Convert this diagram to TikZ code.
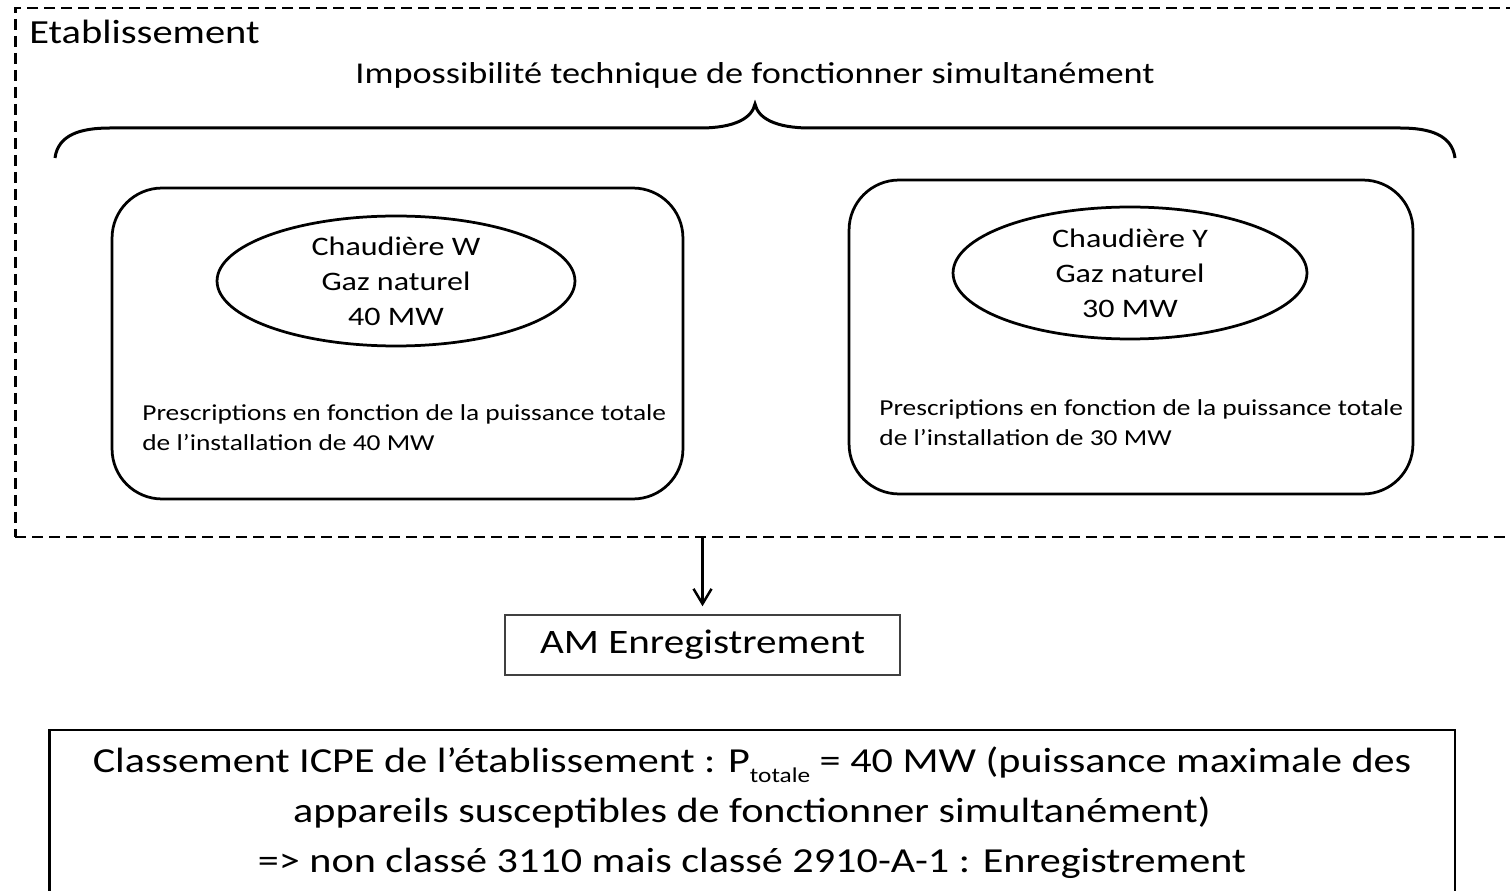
\documentclass[tikz,border=0pt]{standalone}
\usepackage{fontspec}
\setmainfont[FakeStretch=1.2]{Carlito}
\usetikzlibrary{positioning,arrows.meta,shapes.geometric}

\begin{document}
\begin{tikzpicture}[x=0.02cm,y=-0.02cm,
		etabbox/.style={draw, dash pattern=on 0.22cm off 0.12cm, line width=0.055cm, minimum width=30.3cm, minimum height=10.58cm, inner sep=0pt},
		titre/.style={inner sep=0pt, font=\fontsize{19.2}{23}\selectfont},
		accolade/.style={line width=0.06cm},
		unite/.style={draw, line width=0.055cm, rounded corners=1cm, inner sep=0pt},
		chaudiere/.style={draw, ellipse, line width=0.055cm, minimum width=7.16cm, minimum height=2.6cm, inner sep=0pt, inner ysep=-0.6cm, align=center, font=\fontsize{15.2}{19.9}\selectfont},
		prescr/.style={align=left, inner sep=0pt, font=\fontsize{13}{17}\selectfont},
		regime/.style={draw=black!75, line width=0.03cm, minimum width=7.9cm, minimum height=1.2cm, font=\fontsize{19.5}{24}\selectfont},
		classement/.style={draw, line width=0.055cm, minimum width=28.12cm, minimum height=3.32cm, align=center, font=\fontsize{20}{28.5}\selectfont},
		fleche/.style={-{Straight Barb[length=0.3cm,width=0.36cm]}, line width=0.05cm, shorten >=0.16cm},
	]
		\useasboundingbox (0,0) rectangle (1510,891);
		
		\node[etabbox] (etab) at (772.5,272.5) {};
		\node[titre, anchor=base west] (etabT) at (29,44) {Etablissement};
		\node[titre, font=\fontsize{17.2}{21}\selectfont, anchor=base] (simult) at (755,84) {Impossibilité technique de fonctionner simultanément};
		
		\draw[accolade] (55,158) .. controls (58,135) and (80,128) .. (110,128) -- (700,128)
			.. controls (735,128) and (752,118) .. (755,104)
			.. controls (758,118) and (775,128) .. (810,128) -- (1400,128)
			.. controls (1430,128) and (1452,135) .. (1455,158);
		
		\node[unite, minimum width=11.42cm, minimum height=6.22cm] (uW) at (397.5,343.5) {};
		\node[chaudiere] (chW) at (396,281) {Chaudière W\\Gaz naturel\\40 MW};
		\node[prescr, anchor=west] (pW) at (142,428) {Prescriptions en fonction de la puissance totale\\de l’installation de 40 MW};
		
		\node[unite, minimum width=11.28cm, minimum height=6.28cm] (uY) at (1131,337) {};
		\node[chaudiere, minimum width=7.08cm, minimum height=2.64cm] (chY) at (1130,273) {Chaudière Y\\Gaz naturel\\30 MW};
		\node[prescr, anchor=west] (pY) at (879,423) {Prescriptions en fonction de la puissance totale\\de l’installation de 30 MW};
		
		\node[regime] (am) at (702.5,645) {AM Enregistrement};
		\draw[fleche] (am.north |- etab.south) -- (am.north);
		
		\node[classement] (icpe) at (752,813) {Classement ICPE de l’établissement : P\raisebox{-0.6ex}{\fontsize{12}{12}\selectfont totale} = 40 MW (puissance maximale des\\appareils susceptibles de fonctionner simultanément)\\=> non classé 3110 mais classé 2910-A-1 : Enregistrement};
		
\end{tikzpicture}
\end{document}
